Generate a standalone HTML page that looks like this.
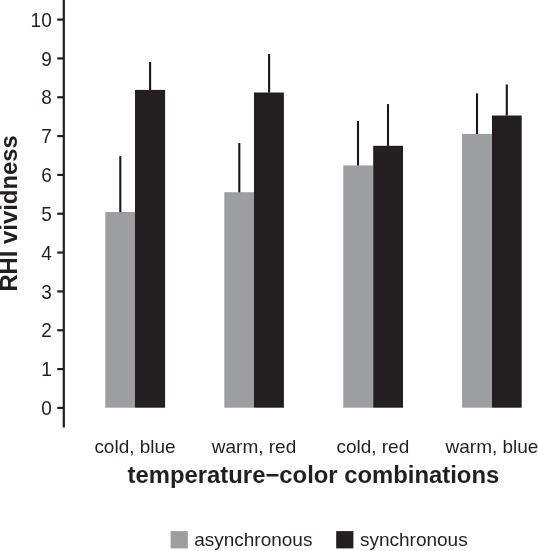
<!DOCTYPE html>
<html lang="en">
<head>
<meta charset="utf-8">
<title>RHI vividness by temperature-color combinations</title>
<style>
html,body{margin:0;padding:0;background:#fff;}
body{width:538px;height:551px;overflow:hidden;}
svg{display:block;will-change:transform;}
text{font-family:"Liberation Sans",Arial,Helvetica,sans-serif;fill:#231f20;}
.r{font-size:19px;}
.b{font-size:23.85px;font-weight:bold;}
</style>
</head>
<body>
<svg width="538" height="551" viewBox="0 0 538 551">
<rect x="0" y="0" width="538" height="551" fill="#ffffff"/>

<g stroke="#231f20" stroke-width="2.2" fill="none">
<line x1="63.80" y1="0" x2="63.80" y2="427.4"/>
<line x1="57.2" y1="407.90" x2="63.80" y2="407.90"/>
<line x1="57.2" y1="369.07" x2="63.80" y2="369.07"/>
<line x1="57.2" y1="330.24" x2="63.80" y2="330.24"/>
<line x1="57.2" y1="291.41" x2="63.80" y2="291.41"/>
<line x1="57.2" y1="252.58" x2="63.80" y2="252.58"/>
<line x1="57.2" y1="213.75" x2="63.80" y2="213.75"/>
<line x1="57.2" y1="174.92" x2="63.80" y2="174.92"/>
<line x1="57.2" y1="136.09" x2="63.80" y2="136.09"/>
<line x1="57.2" y1="97.26" x2="63.80" y2="97.26"/>
<line x1="57.2" y1="58.43" x2="63.80" y2="58.43"/>
<line x1="57.2" y1="19.60" x2="63.80" y2="19.60"/>
</g>
<text class="r" text-anchor="end" transform="translate(51.70 415.00) scale(1 1.040)">0</text>
<text class="r" text-anchor="end" transform="translate(51.70 376.17) scale(1 1.040)">1</text>
<text class="r" text-anchor="end" transform="translate(51.70 337.34) scale(1 1.040)">2</text>
<text class="r" text-anchor="end" transform="translate(51.70 298.51) scale(1 1.040)">3</text>
<text class="r" text-anchor="end" transform="translate(51.70 259.68) scale(1 1.040)">4</text>
<text class="r" text-anchor="end" transform="translate(51.70 220.85) scale(1 1.040)">5</text>
<text class="r" text-anchor="end" transform="translate(51.70 182.02) scale(1 1.040)">6</text>
<text class="r" text-anchor="end" transform="translate(51.70 143.19) scale(1 1.040)">7</text>
<text class="r" text-anchor="end" transform="translate(51.70 104.36) scale(1 1.040)">8</text>
<text class="r" text-anchor="end" transform="translate(51.70 65.53) scale(1 1.040)">9</text>
<text class="r" text-anchor="end" transform="translate(51.70 26.70) scale(1 1.040)">10</text>
<rect x="105.30" y="212.00" width="29.70" height="195.70" fill="#9c9ea1"/>
<rect x="135.00" y="89.90" width="30.10" height="317.80" fill="#231f20"/>
<rect x="224.30" y="192.20" width="29.70" height="215.50" fill="#9c9ea1"/>
<rect x="254.00" y="92.50" width="29.90" height="315.20" fill="#231f20"/>
<rect x="343.30" y="165.40" width="29.90" height="242.30" fill="#9c9ea1"/>
<rect x="373.20" y="145.80" width="29.80" height="261.90" fill="#231f20"/>
<rect x="462.10" y="133.90" width="29.90" height="273.80" fill="#9c9ea1"/>
<rect x="492.00" y="115.50" width="29.70" height="292.20" fill="#231f20"/>
<g stroke="#1a1718" stroke-width="2.1">
<line x1="120.30" y1="156.10" x2="120.30" y2="212.10"/>
<line x1="150.10" y1="61.90" x2="150.10" y2="90.00"/>
<line x1="239.30" y1="143.10" x2="239.30" y2="192.30"/>
<line x1="269.10" y1="54.10" x2="269.10" y2="92.60"/>
<line x1="358.00" y1="120.90" x2="358.00" y2="165.50"/>
<line x1="388.00" y1="104.10" x2="388.00" y2="145.90"/>
<line x1="477.00" y1="93.30" x2="477.00" y2="134.00"/>
<line x1="506.80" y1="84.40" x2="506.80" y2="115.60"/>
</g>
<text class="r" text-anchor="middle" transform="translate(135.00 453.00) scale(1 0.987)">cold, blue</text>
<text class="r" text-anchor="middle" transform="translate(254.00 453.00) scale(1 0.987)">warm, red</text>
<text class="r" text-anchor="middle" transform="translate(372.80 453.00) scale(1 0.987)">cold, red</text>
<text class="r" text-anchor="middle" transform="translate(492.00 453.00) scale(1 0.987)">warm, blue</text>
<text class="b" text-anchor="middle" transform="translate(313.40 483.00) scale(1 0.987)">temperature−color combinations</text>
<text class="b" text-anchor="start" transform="translate(17.10 291.61) rotate(-90) scale(1 1.040)">RHI</text>
<text class="b" text-anchor="start" transform="translate(17.10 243.91) rotate(-90) scale(1 0.987)">vividness</text>
<rect x="170.6" y="531.1" width="17.2" height="17.3" fill="#9c9ea1"/>
<text class="r" text-anchor="start" transform="translate(194.20 546.20) scale(1 0.987)">asynchronous</text>
<rect x="336.2" y="531.1" width="17.2" height="17.3" fill="#231f20"/>
<text class="r" text-anchor="start" transform="translate(360.00 546.20) scale(1 0.987)">synchronous</text>
</svg>
</body>
</html>
